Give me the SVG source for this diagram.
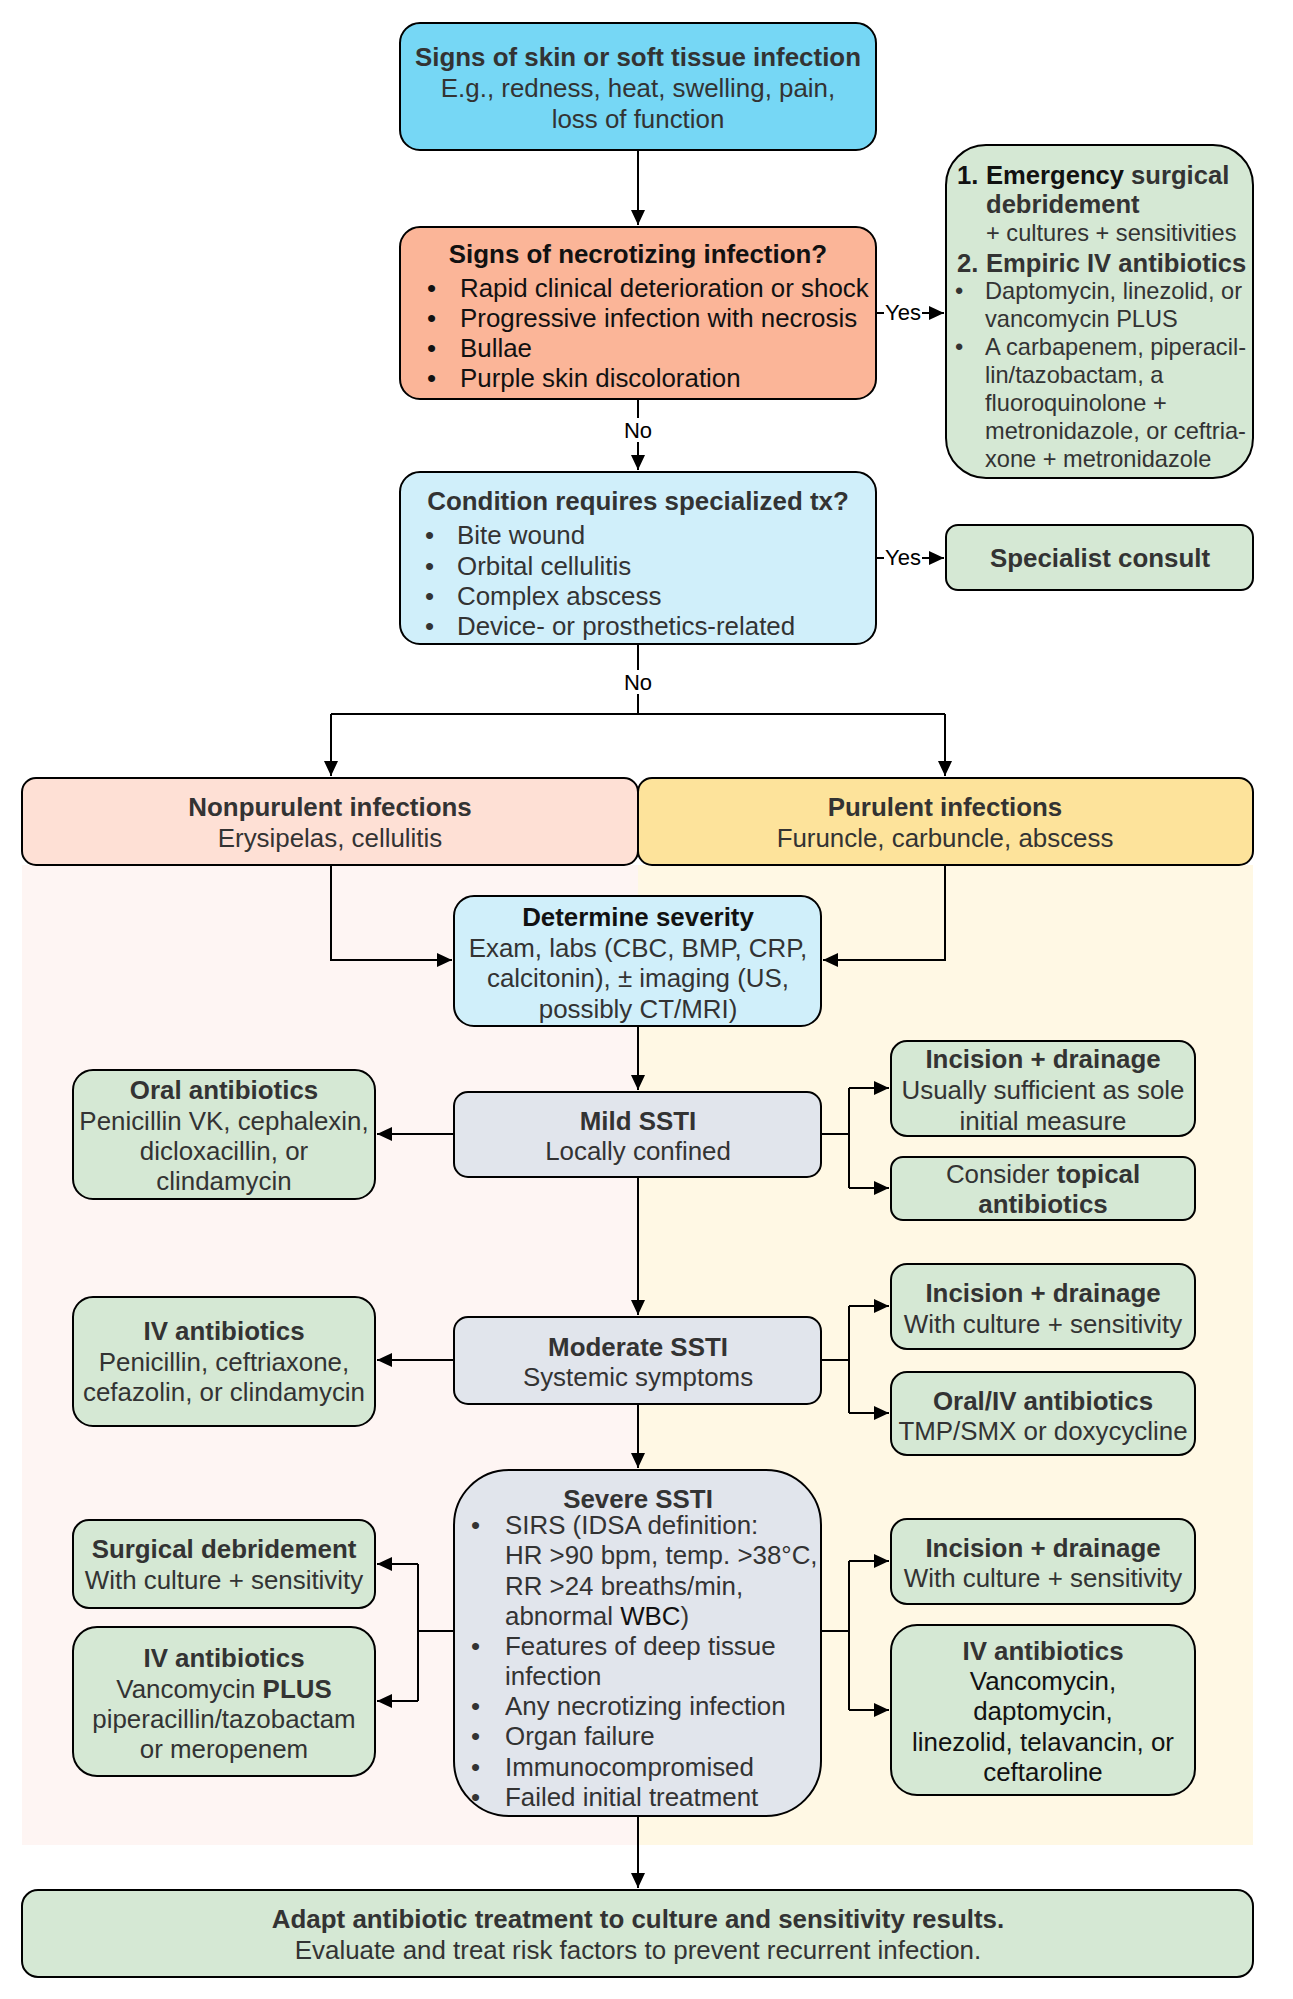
<svg xmlns="http://www.w3.org/2000/svg" width="1293" height="1999" viewBox="0 0 1293 1999">
<style>
.box{stroke:#000;stroke-width:2}
.t{font-family:"Liberation Sans",Arial,sans-serif;font-size:25.9px;fill:#333}
.s{font-size:23.6px}
.sb{font-size:25.6px;font-weight:bold}
.b{font-weight:bold}
.c{text-anchor:middle}
.k{fill:#111}
.lbl{font-family:"Liberation Sans",Arial,sans-serif;font-size:22px;fill:#000;text-anchor:middle}
.conn{stroke:#000;stroke-width:2;fill:none}
.blue{fill:#76D7F5}.sal{fill:#FBB598}.pale{fill:#D0EFFA}.grn{fill:#D5E8D4}.gry{fill:#E1E5EC}
</style>
<defs>
<marker id="ah" markerUnits="userSpaceOnUse" markerWidth="16" markerHeight="16" refX="15" refY="7" orient="auto">
<path d="M0,0 L15,7 L0,14 z" fill="#000"/>
</marker>
</defs>
<rect width="1293" height="1999" fill="#fff"/>
<g id="panels">
<rect x="22" y="865" width="616" height="980" fill="#FEF5F3"/>
<rect x="638" y="865" width="615" height="980" fill="#FFF8E4"/>
</g>
<g id="connectors">
<path class="conn" d="M638,150 V225" marker-end="url(#ah)"/>
<path class="conn" d="M638,399 V470" marker-end="url(#ah)"/>
<path class="conn" d="M876,313 H944" marker-end="url(#ah)"/>
<path class="conn" d="M876,558 H944" marker-end="url(#ah)"/>
<path class="conn" d="M638,644 V714"/>
<path class="conn" d="M331,714 H945"/>
<path class="conn" d="M331,714 V776" marker-end="url(#ah)"/>
<path class="conn" d="M945,714 V776" marker-end="url(#ah)"/>
<path class="conn" d="M331,865 V960 H452" marker-end="url(#ah)"/>
<path class="conn" d="M945,865 V960 H823" marker-end="url(#ah)"/>
<path class="conn" d="M638,1026 V1090" marker-end="url(#ah)"/>
<path class="conn" d="M454,1134 H377" marker-end="url(#ah)"/>
<path class="conn" d="M821,1134 H849"/>
<path class="conn" d="M849,1088 V1188"/>
<path class="conn" d="M849,1088 H889" marker-end="url(#ah)"/>
<path class="conn" d="M849,1188 H889" marker-end="url(#ah)"/>
<path class="conn" d="M638,1177 V1315" marker-end="url(#ah)"/>
<path class="conn" d="M454,1360 H377" marker-end="url(#ah)"/>
<path class="conn" d="M821,1360 H849"/>
<path class="conn" d="M849,1306 V1413"/>
<path class="conn" d="M849,1306 H889" marker-end="url(#ah)"/>
<path class="conn" d="M849,1413 H889" marker-end="url(#ah)"/>
<path class="conn" d="M638,1404 V1468" marker-end="url(#ah)"/>
<path class="conn" d="M454,1631 H418"/>
<path class="conn" d="M418,1564 V1701"/>
<path class="conn" d="M418,1564 H377" marker-end="url(#ah)"/>
<path class="conn" d="M418,1701 H377" marker-end="url(#ah)"/>
<path class="conn" d="M821,1631 H849"/>
<path class="conn" d="M849,1561 V1710"/>
<path class="conn" d="M849,1561 H889" marker-end="url(#ah)"/>
<path class="conn" d="M849,1710 H889" marker-end="url(#ah)"/>
<path class="conn" d="M638,1816 V1888" marker-end="url(#ah)"/>
<rect x="884" y="299" width="38" height="26" fill="#fff"/>
<text class="lbl" x="903" y="320">Yes</text>
<rect x="884" y="544" width="38" height="26" fill="#fff"/>
<text class="lbl" x="903" y="565">Yes</text>
<rect x="623" y="418" width="30" height="24" fill="#fff"/>
<text class="lbl" x="638" y="438">No</text>
<rect x="623" y="670" width="30" height="24" fill="#fff"/>
<text class="lbl" x="638" y="690">No</text>
</g>
<g id="n-signs">
<rect class="box blue" x="400" y="23" width="476" height="127" rx="20"/>
<text class="t c" x="638"><tspan class="b" x="638" y="66">Signs of skin or soft tissue infection</tspan><tspan x="638" y="97">E.g., redness, heat, swelling, pain,</tspan><tspan x="638" y="128">loss of function</tspan></text>
</g>
<g id="n-necrotizing">
<rect class="box sal" x="400" y="227" width="476" height="172" rx="20"/>
<text class="t b c k" x="638" y="263">Signs of necrotizing infection?</text>
<text class="t k"><tspan x="427" y="297">•</tspan><tspan x="460" y="297">Rapid clinical deterioration or shock</tspan><tspan x="427" y="327">•</tspan><tspan x="460" y="327">Progressive infection with necrosis</tspan><tspan x="427" y="357">•</tspan><tspan x="460" y="357">Bullae</tspan><tspan x="427" y="387">•</tspan><tspan x="460" y="387">Purple skin discoloration</tspan></text>
</g>
<g id="n-emergency">
<rect class="box grn" x="946" y="145" width="307" height="333" rx="40"/>
<text class="t s"><tspan x="957" y="184" class="sb k">1.</tspan><tspan x="986" y="184" class="sb k">Emergency</tspan><tspan class="sb"> surgical</tspan><tspan x="986" y="213" class="sb">debridement</tspan><tspan x="986" y="241">+ cultures + sensitivities</tspan><tspan x="957" y="272" class="sb">2.</tspan><tspan x="986" y="272" class="sb">Empiric IV antibiotics</tspan><tspan x="955" y="299">•</tspan><tspan x="985" y="299">Daptomycin, linezolid, or</tspan><tspan x="985" y="327">vancomycin PLUS</tspan><tspan x="955" y="355">•</tspan><tspan x="985" y="355">A carbapenem, piperacil-</tspan><tspan x="985" y="383">lin/tazobactam, a</tspan><tspan x="985" y="411">fluoroquinolone +</tspan><tspan x="985" y="439">metronidazole, or ceftria-</tspan><tspan x="985" y="467">xone + metronidazole</tspan></text>
</g>
<g id="n-specialized">
<rect class="box pale" x="400" y="472" width="476" height="172" rx="20"/>
<text class="t b c" x="638" y="510">Condition requires specialized tx?</text>
<text class="t"><tspan x="425" y="544">•</tspan><tspan x="457" y="544">Bite wound</tspan><tspan x="425" y="575">•</tspan><tspan x="457" y="575">Orbital cellulitis</tspan><tspan x="425" y="605">•</tspan><tspan x="457" y="605">Complex abscess</tspan><tspan x="425" y="635">•</tspan><tspan x="457" y="635">Device- or prosthetics-related</tspan></text>
</g>
<g id="n-specialist">
<rect class="box grn" x="946" y="525" width="307" height="65" rx="12"/>
<text class="t b c" x="1100" y="567">Specialist consult</text>
</g>
<g id="n-nonpurulent">
<rect class="box" fill="#FEE0D5" x="22" y="778" width="616" height="87" rx="14"/>
<text class="t c"><tspan class="b" x="330" y="816">Nonpurulent infections</tspan><tspan x="330" y="847">Erysipelas, cellulitis</tspan></text>
</g>
<g id="n-purulent">
<rect class="box" fill="#FDE39B" x="638" y="778" width="615" height="87" rx="14"/>
<text class="t c"><tspan class="b" x="945" y="816">Purulent infections</tspan><tspan x="945" y="847">Furuncle, carbuncle, abscess</tspan></text>
</g>
<g id="n-severity">
<rect class="box pale" x="454" y="896" width="367" height="130" rx="20"/>
<text class="t c"><tspan class="b k" x="638" y="926">Determine severity</tspan><tspan x="638" y="957">Exam, labs (CBC, BMP, CRP,</tspan><tspan x="638" y="987">calcitonin), ± imaging (US,</tspan><tspan x="638" y="1018">possibly CT/MRI)</tspan></text>
</g>
<g id="n-mild">
<rect class="box gry" x="454" y="1092" width="367" height="85" rx="14"/>
<text class="t c"><tspan class="b" x="638" y="1130">Mild SSTI</tspan><tspan x="638" y="1160">Locally confined</tspan></text>
</g>
<g id="n-oral">
<rect class="box grn" x="73" y="1070" width="302" height="129" rx="20"/>
<text class="t c"><tspan class="b" x="224" y="1099">Oral antibiotics</tspan><tspan x="224" y="1130">Penicillin VK, cephalexin,</tspan><tspan x="224" y="1160">dicloxacillin, or</tspan><tspan x="224" y="1190">clindamycin</tspan></text>
</g>
<g id="n-incision1">
<rect class="box grn" x="891" y="1041" width="304" height="95" rx="16"/>
<text class="t c"><tspan class="b" x="1043" y="1068">Incision + drainage</tspan><tspan x="1043" y="1099">Usually sufficient as sole</tspan><tspan x="1043" y="1130">initial measure</tspan></text>
</g>
<g id="n-topical">
<rect class="box grn" x="891" y="1157" width="304" height="63" rx="12"/>
<text class="t c"><tspan x="1043" y="1183">Consider <tspan class="b">topical</tspan></tspan><tspan class="b" x="1043" y="1213">antibiotics</tspan></text>
</g>
<g id="n-moderate">
<rect class="box gry" x="454" y="1317" width="367" height="87" rx="14"/>
<text class="t c"><tspan class="b" x="638" y="1356">Moderate SSTI</tspan><tspan x="638" y="1386">Systemic symptoms</tspan></text>
</g>
<g id="n-iv1">
<rect class="box grn" x="73" y="1297" width="302" height="129" rx="20"/>
<text class="t c"><tspan class="b" x="224" y="1340">IV antibiotics</tspan><tspan x="224" y="1371">Penicillin, ceftriaxone,</tspan><tspan x="224" y="1401">cefazolin, or clindamycin</tspan></text>
</g>
<g id="n-incision2">
<rect class="box grn" x="891" y="1264" width="304" height="85" rx="16"/>
<text class="t c"><tspan class="b" x="1043" y="1302">Incision + drainage</tspan><tspan x="1043" y="1333">With culture + sensitivity</tspan></text>
</g>
<g id="n-oraliv">
<rect class="box grn" x="891" y="1372" width="304" height="83" rx="16"/>
<text class="t c"><tspan class="b" x="1043" y="1410">Oral/IV antibiotics</tspan><tspan x="1043" y="1440">TMP/SMX or doxycycline</tspan></text>
</g>
<g id="n-severe">
<rect class="box gry" x="454" y="1470" width="367" height="346" rx="55"/>
<text class="t b c" x="638" y="1508">Severe SSTI</text>
<text class="t"><tspan x="471" y="1534">•</tspan><tspan x="505" y="1534">SIRS (IDSA definition:</tspan><tspan x="505" y="1564">HR &gt;90 bpm, temp. &gt;38°C,</tspan><tspan x="505" y="1595">RR &gt;24 breaths/min,</tspan><tspan x="505" y="1625">abnormal <tspan class="k">WBC</tspan>)</tspan><tspan x="471" y="1655">•</tspan><tspan x="505" y="1655">Features of deep tissue</tspan><tspan x="505" y="1685">infection</tspan><tspan x="471" y="1715">•</tspan><tspan x="505" y="1715">Any necrotizing infection</tspan><tspan x="471" y="1745">•</tspan><tspan x="505" y="1745">Organ failure</tspan><tspan x="471" y="1776">•</tspan><tspan x="505" y="1776">Immunocompromised</tspan><tspan x="471" y="1806">•</tspan><tspan x="505" y="1806">Failed initial treatment</tspan></text>
</g>
<g id="n-surgical">
<rect class="box grn" x="73" y="1520" width="302" height="88" rx="16"/>
<text class="t c"><tspan class="b" x="224" y="1558">Surgical debridement</tspan><tspan x="224" y="1589">With culture + sensitivity</tspan></text>
</g>
<g id="n-iv2">
<rect class="box grn" x="73" y="1627" width="302" height="149" rx="24"/>
<text class="t c"><tspan class="b" x="224" y="1667">IV antibiotics</tspan><tspan x="224" y="1698">Vancomycin <tspan class="b">PLUS</tspan></tspan><tspan x="224" y="1728">piperacillin/tazobactam</tspan><tspan x="224" y="1758">or meropenem</tspan></text>
</g>
<g id="n-incision3">
<rect class="box grn" x="891" y="1519" width="304" height="85" rx="16"/>
<text class="t c"><tspan class="b" x="1043" y="1557">Incision + drainage</tspan><tspan x="1043" y="1587">With culture + sensitivity</tspan></text>
</g>
<g id="n-iv3">
<rect class="box grn" x="891" y="1625" width="304" height="170" rx="26"/>
<text class="t c"><tspan class="b" x="1043" y="1660">IV antibiotics</tspan><tspan class="k" x="1043" y="1690">Vancomycin,</tspan><tspan class="k" x="1043" y="1720">daptomycin,</tspan><tspan class="k" x="1043" y="1751">linezolid, telavancin, or</tspan><tspan class="k" x="1043" y="1781">ceftaroline</tspan></text>
</g>
<g id="n-adapt">
<rect class="box grn" x="22" y="1890" width="1231" height="87" rx="16"/>
<text class="t c"><tspan class="b" x="638" y="1928">Adapt antibiotic treatment to culture and sensitivity results.</tspan><tspan x="638" y="1959">Evaluate and treat risk factors to prevent recurrent infection.</tspan></text>
</g>
</svg>
